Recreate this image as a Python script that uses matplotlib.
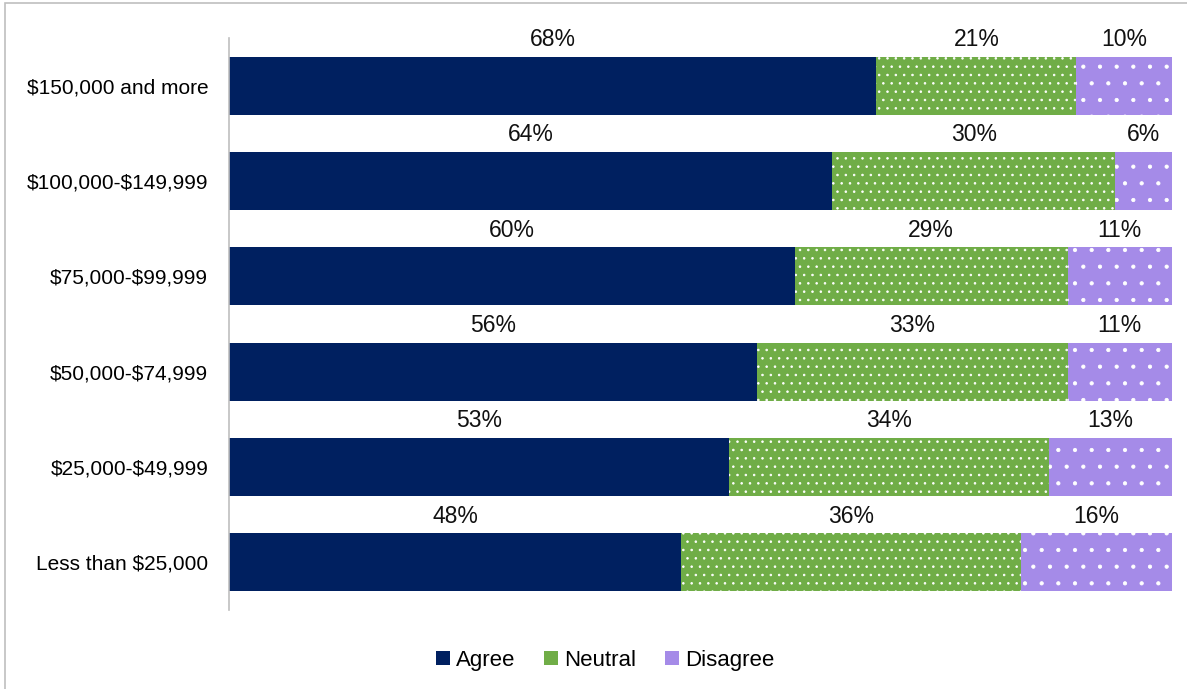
import numpy as np
import matplotlib
matplotlib.use("Agg")
import matplotlib.pyplot as plt
from matplotlib.patches import Rectangle, Patch

plt.rcParams['font.family'] = ['Liberation Sans', 'DejaVu Sans']
plt.rcParams['text.parse_math'] = False
plt.rcParams['hatch.linewidth'] = 0.6

# data, top row first
categories = ['$150,000 and more', '$100,000-$149,999', '$75,000-$99,999',
              '$50,000-$74,999', '$25,000-$49,999', 'Less than $25,000']
agree = [68, 64, 60, 56, 53, 48]
neutral = [21, 30, 29, 33, 34, 36]
disagree = [10, 6, 11, 11, 13, 16]
series_names = ['Agree', 'Neutral', 'Disagree']

colors = ['#002060', '#70AD47', '#A58BE8']
hatches = [None, '..', '.']

fig = plt.figure(figsize=(11.87, 6.89), dpi=100)
ax = fig.add_axes([0.193, 0.1147, 0.794, 0.8301])

vals = np.array([agree, neutral, disagree], dtype=float)
shares = vals / vals.sum(axis=0)  # 100% stacked
y = np.arange(len(categories))
bar_h = 0.61

left = np.zeros(len(categories))
for i, name in enumerate(series_names):
    ax.barh(y, shares[i], left=left, height=bar_h, color=colors[i],
            hatch=hatches[i], edgecolor='white' if hatches[i] else colors[i],
            linewidth=0, label=name)
    for j in range(len(categories)):
        ax.annotate(f"{int(vals[i, j])}%", (left[j] + shares[i, j] / 2, y[j] - bar_h / 2),
                    xytext=(0, 4), textcoords='offset points',
                    ha='center', va='bottom', fontsize=16.5, color='#111111')
    left += shares[i]

ax.set_xlim(0, 1)
ax.set_ylim(len(categories) - 0.5, -0.5)
ax.set_yticks(y)
ax.set_yticklabels(categories, fontsize=15)
ax.set_xticks([])
ax.tick_params(axis='y', length=0, pad=15)
for s in ['top', 'right', 'bottom']:
    ax.spines[s].set_visible(False)
ax.spines['left'].set_color('#BFBFBF')
ax.spines['left'].set_linewidth(1.2)

handles = [Patch(facecolor=colors[i], edgecolor='none', label=series_names[i])
           for i in range(3)]
fig.legend(handles=handles, loc='center', bbox_to_anchor=(0.51, 0.042), ncol=3,
           frameon=False, fontsize=16, handlelength=0.6, handleheight=0.6,
           handletextpad=0.3, columnspacing=1.3)

# outer chart border
fig.patches.append(Rectangle((5 / 1187, -0.01), 1.02, 1 - 3 / 689 + 0.01,
                             transform=fig.transFigure, fill=False,
                             edgecolor='#BFBFBF', linewidth=1.2))

fig.savefig('out.png', dpi=100)
